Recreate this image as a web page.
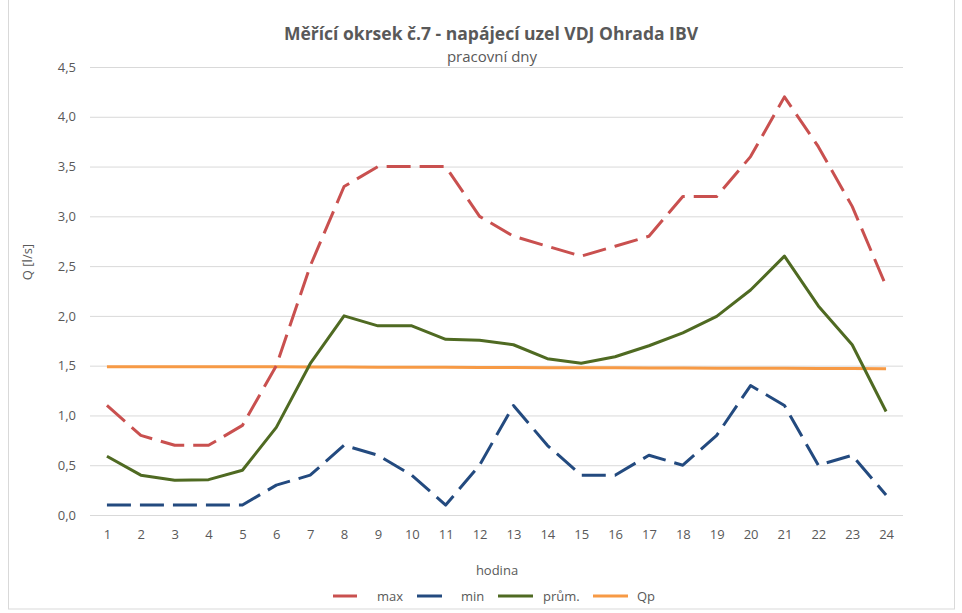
<!DOCTYPE html>
<html>
<head>
<meta charset="utf-8">
<script src="https://cdn.jsdelivr.net/npm/d3@7"></script>
<style>
  body { margin: 0; background: #fff; }
  text { font-family: 'Open Sans', 'Noto Sans', sans-serif; fill: #595959; }
</style>
</head>
<body>
<div id="chart"></div>
<script>
const hours = ['1', '2', '3', '4', '5', '6', '7', '8', '9', '10', '11', '12',
  '13', '14', '15', '16', '17', '18', '19', '20', '21', '22', '23', '24']

const maxValues = [1.1, 0.8, 0.7, 0.7, 0.9, 1.5, 2.5, 3.3, 3.5, 3.5, 3.5, 3.0,
  2.8, 2.7, 2.6, 2.7, 2.8, 3.2, 3.2, 3.6, 4.2, 3.7, 3.1, 2.3]

const minValues = [0.1, 0.1, 0.1, 0.1, 0.1, 0.3, 0.4, 0.7, 0.6, 0.4, 0.1, 0.5,
  1.1, 0.7, 0.4, 0.4, 0.6, 0.5, 0.8, 1.3, 1.1, 0.5, 0.6, 0.2]

const avgValues = [0.59, 0.4, 0.35, 0.355, 0.45, 0.88, 1.52, 2.0, 1.9, 1.9, 1.765, 1.755,
  1.71, 1.57, 1.525, 1.59, 1.7, 1.83, 1.995, 2.26, 2.6, 2.1, 1.71, 1.04]

const qpValues = [1.49, 1.49, 1.49, 1.49, 1.489, 1.488, 1.487, 1.486, 1.485, 1.484, 1.483, 1.482,
  1.481, 1.48, 1.479, 1.478, 1.477, 1.476, 1.475, 1.474, 1.473, 1.472, 1.471, 1.47]

const yTicks = [0, 0.5, 1, 1.5, 2, 2.5, 3, 3.5, 4, 4.5]

const seriesNames = ['max', 'min', 'prům.', 'Qp']

const width = 962
const height = 613
const margin = { top: 67, left: 90, right: 59, bottom: 98 }

const svg = d3
  .select('#chart')
  .append('svg')
  .attr('width', width)
  .attr('height', height)

// chart border
svg
  .append('rect')
  .attr('x', 8.5)
  .attr('y', -1)
  .attr('width', 946)
  .attr('height', 610)
  .attr('fill', 'none')
  .attr('stroke', '#d9d9d9')

const xPositionScale = d3
  .scalePoint()
  .domain(hours)
  .range([margin.left, width - margin.right])
  .padding(0.5)

const yPositionScale = d3
  .scaleLinear()
  .domain([0, 4.5])
  .range([height - margin.bottom, margin.top])

// gridlines + y labels
const yAxis = d3
  .axisLeft(yPositionScale)
  .tickValues(yTicks)
  .tickSize(-(width - margin.left - margin.right))
  .tickPadding(14)
  .tickFormat(d => d3.format('.1f')(d).replace('.', ','))

svg
  .append('g')
  .attr('class', 'y-axis')
  .attr('transform', 'translate(' + margin.left + ',0)')
  .call(yAxis)
  .call(g => g.select('.domain').remove())
  .call(g => g.selectAll('line').attr('stroke', '#d9d9d9').attr('stroke-width', 1))
  .call(g => g.selectAll('text').attr('font-size', 13).attr('fill', '#595959'))

const xAxis = d3
  .axisBottom(xPositionScale)
  .tickSize(0)
  .tickPadding(15)

svg
  .append('g')
  .attr('class', 'x-axis')
  .attr('transform', 'translate(0,' + (height - margin.bottom) + ')')
  .call(xAxis)
  .call(g => g.select('.domain').remove())
  .call(g => g.selectAll('text').attr('font-size', 13).attr('fill', '#595959'))

const line = d3
  .line()
  .x((d, i) => xPositionScale(hours[i]))
  .y(d => yPositionScale(d))

const series = [
  { name: 'max', values: maxValues, color: '#c9504f', dash: '24,9' },
  { name: 'min', values: minValues, color: '#234a7f', dash: '24,9' },
  { name: 'prům.', values: avgValues, color: '#4f6a22', dash: null },
  { name: 'Qp', values: qpValues, color: '#f79a45', dash: null }
]

svg
  .selectAll('.series')
  .data(series.slice().reverse())
  .enter()
  .append('path')
  .attr('class', 'series')
  .attr('d', d => line(d.values))
  .attr('fill', 'none')
  .attr('stroke', d => d.color)
  .attr('stroke-width', 3)
  .attr('stroke-dasharray', d => d.dash)
  .attr('stroke-linejoin', 'round')

// titles
svg
  .append('text')
  .attr('x', 491)
  .attr('y', 40)
  .attr('text-anchor', 'middle')
  .attr('font-size', 17.5)
  .attr('font-weight', 700)
  .text('Měřící okrsek č.7 - napájecí uzel VDJ Ohrada IBV')

svg
  .append('text')
  .attr('x', 492)
  .attr('y', 62)
  .attr('text-anchor', 'middle')
  .attr('font-size', 15)
  .text('pracovní dny')

svg
  .append('text')
  .attr('x', 497)
  .attr('y', 575)
  .attr('text-anchor', 'middle')
  .attr('font-size', 13)
  .text('hodina')

svg
  .append('text')
  .attr('transform', 'translate(32,262) rotate(-90)')
  .attr('text-anchor', 'middle')
  .attr('font-size', 13)
  .text('Q [l/s]')

// legend
const legendItems = [
  { x: 333, w: 24, tx: 377 },
  { x: 417, w: 25, tx: 461 },
  { x: 498, w: 35, tx: 543 },
  { x: 593, w: 35, tx: 637 }
]

const legend = svg
  .selectAll('.legend')
  .data(series)
  .enter()
  .append('g')
  .attr('class', 'legend')

legend
  .append('line')
  .attr('x1', (d, i) => legendItems[i].x)
  .attr('x2', (d, i) => legendItems[i].x + legendItems[i].w)
  .attr('y1', 596)
  .attr('y2', 596)
  .attr('stroke', d => d.color)
  .attr('stroke-width', 3)

legend
  .append('text')
  .attr('x', (d, i) => legendItems[i].tx)
  .attr('y', 600.5)
  .attr('font-size', 13)
  .text((d, i) => seriesNames[i])
</script>
</body>
</html>
